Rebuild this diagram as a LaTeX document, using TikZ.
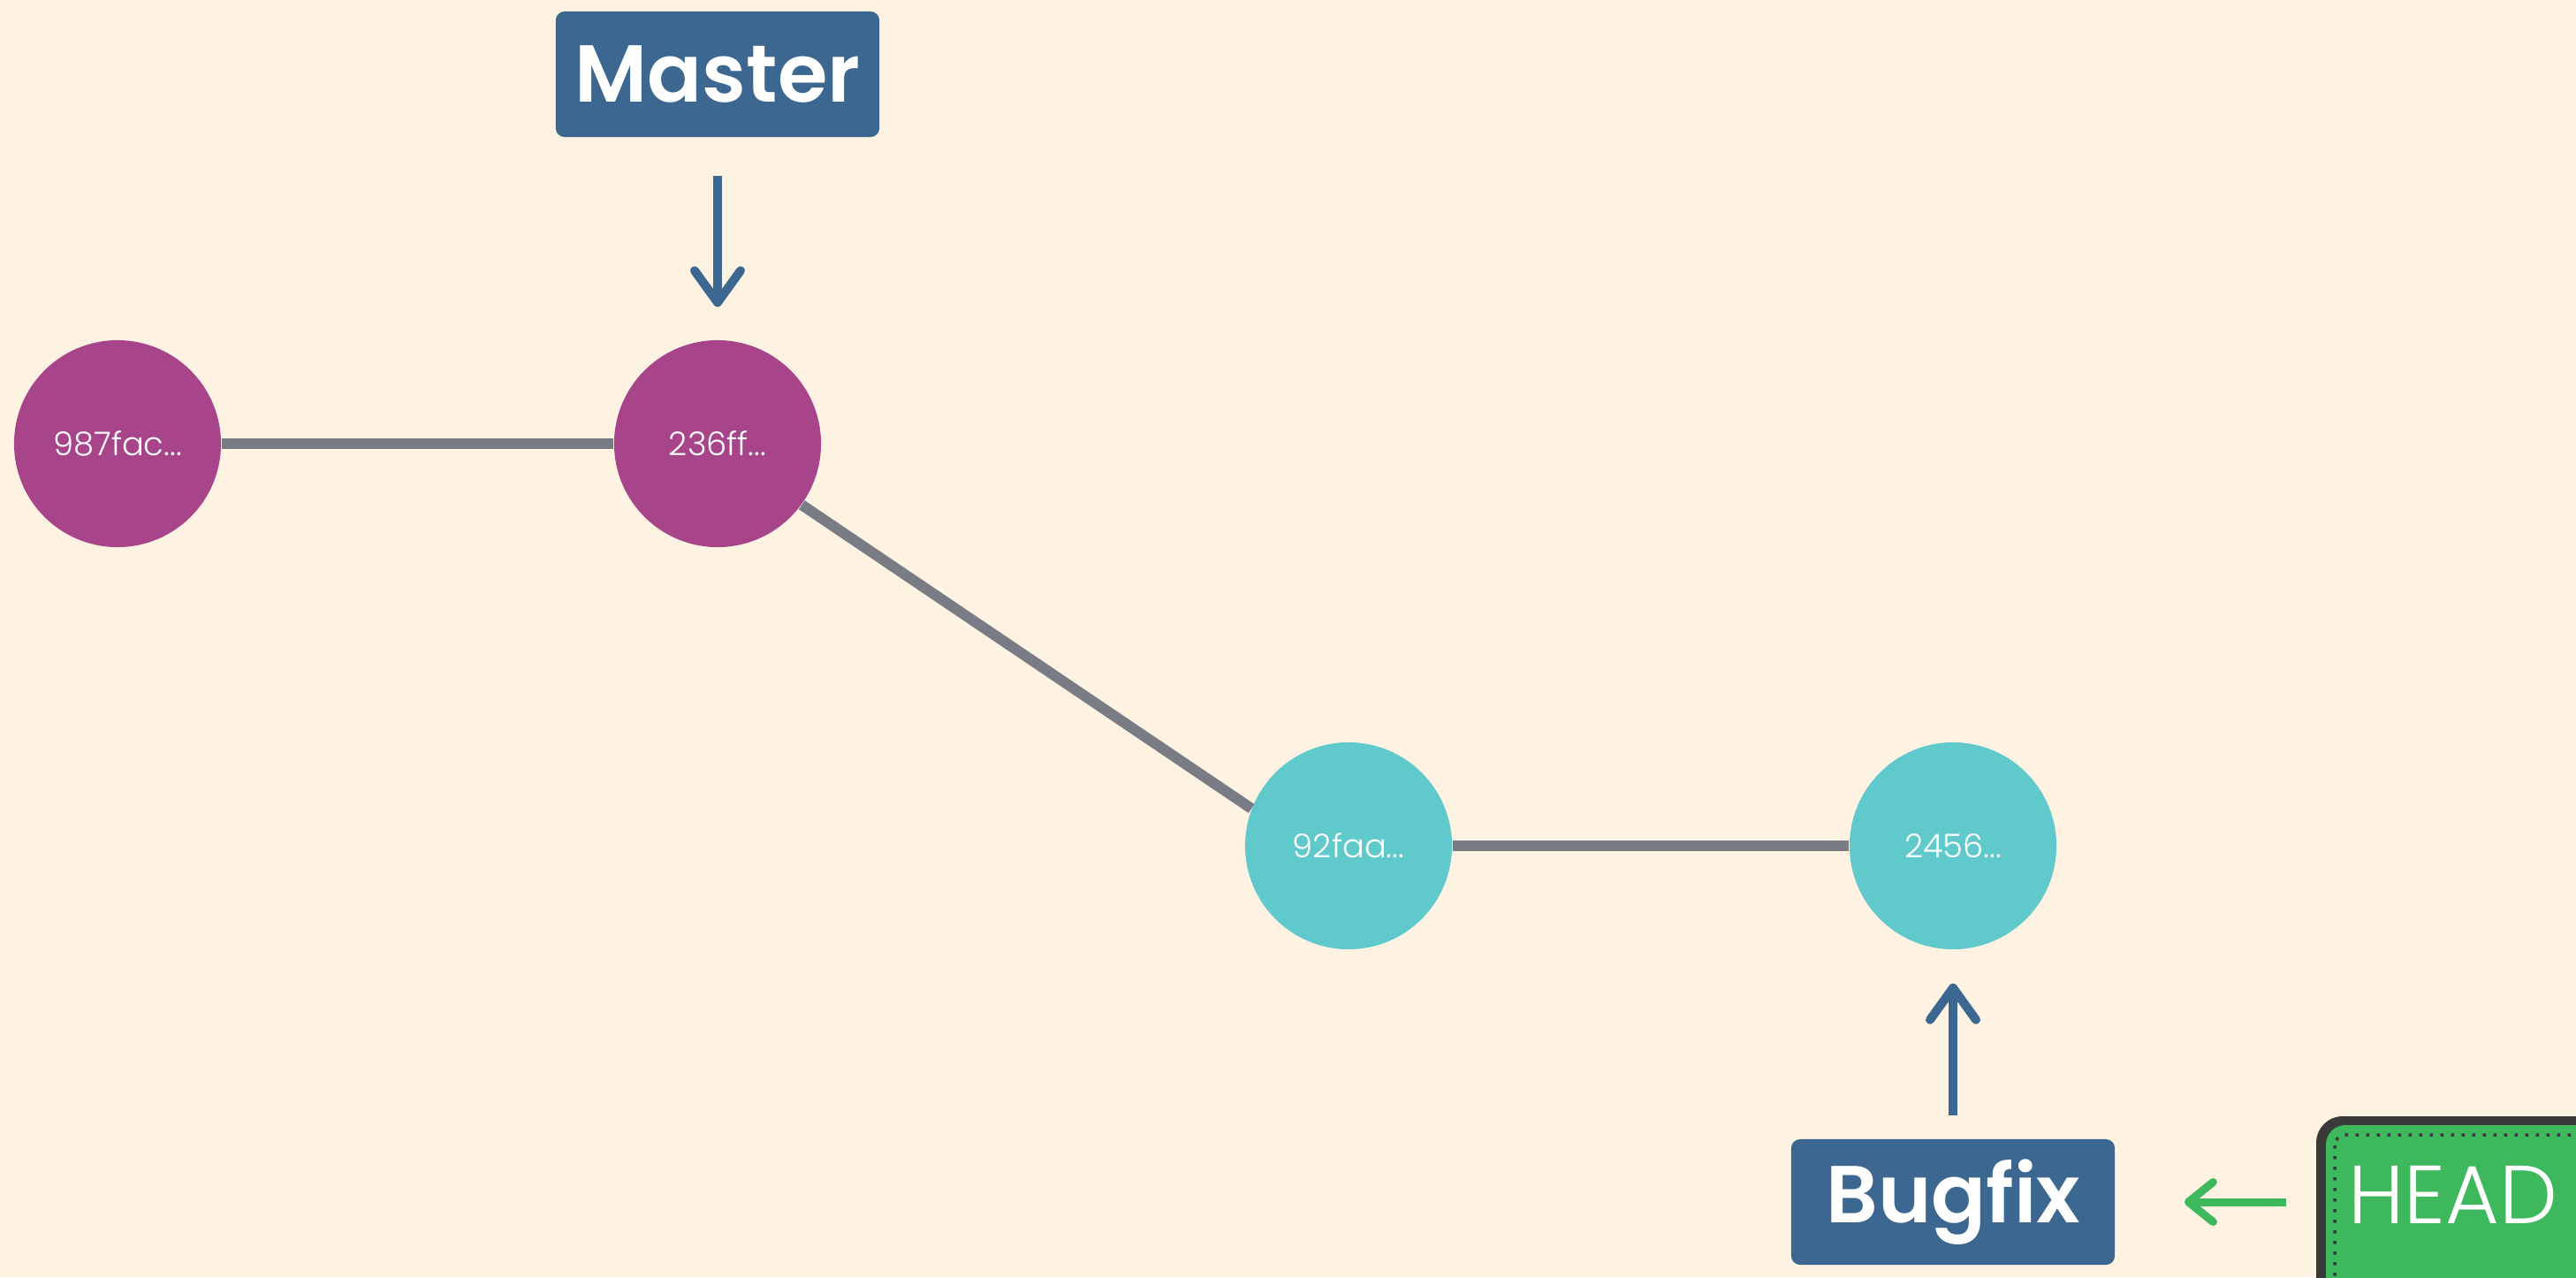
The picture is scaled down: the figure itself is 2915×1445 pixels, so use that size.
\documentclass[tikz,border=0pt]{standalone}
\usepackage{fontspec}
\setmainfont{Poppins}
\newfontfamily\thinfont{Poppins Light}
\newfontfamily\semifont{Poppins SemiBold}
\usetikzlibrary{arrows.meta}
\definecolor{paper}{HTML}{FEF3E2}
\definecolor{plum}{HTML}{A8448A}
\definecolor{teal}{HTML}{5FC9CC}
\definecolor{branch}{HTML}{3C6790}
\definecolor{edge}{HTML}{7A7C85}
\definecolor{headgreen}{HTML}{3DB85C}
\definecolor{frame}{HTML}{3A3A3A}
\tikzset{
  commit/.style={
    circle,
    minimum size=2.34cm,
    inner sep=0,
    text=white,
    font=\thinfont\fontsize{10.5}{12}\selectfont
  },
  branchbox/.style={
    rectangle,
    rounded corners=0.1cm,
    fill=branch,
    text=white,
    minimum width=3.66cm,
    minimum height=1.42cm,
    font=\semifont\fontsize{26}{28}\selectfont
  },
  pointer/.style={
    line width=0.1cm,
    -{Straight Barb[round,length=0.36cm,width=0.52cm]}
  },
  link/.style={
    line width=0.12cm,
    draw=edge
  }
}

\begin{document}
\begin{tikzpicture}[x=0.01cm,y=-0.01cm]
\clip (0,0) rectangle (2915,1445);
\fill[paper] (0,0) rectangle (2915,1445);
%\def\r{117}
\def\top{502}
\def\low{957}
\node[commit,fill=plum] (c1) at ( 133,\top) {987fac...};
\node[commit,fill=plum] (c2) at ( 812,\top) {236ff...};
\node[commit,fill=teal] (c3) at (1526,\low) {92faa...};
\node[commit,fill=teal] (c4) at (2210,\low) {2456...};
\draw[link] (c1) -- (c2);
\draw[link] (c2.-36) -- (c3.159);
\draw[link] (c3) -- (c4);
\node[branchbox] (master) at ( 812,  84) {Master};
\node[branchbox] (bugfix) at (2210,1360) {Bugfix};
\draw[pointer,draw=branch,shorten <=0.43cm,shorten >=0.37cm] (master) -- (c2);
\draw[pointer,draw=branch,shorten <=0.26cm,shorten >=0.38cm] (bugfix) -- (c4);
% head pointer
\fill[frame,rounded corners=0.3cm] (2621,1263) rectangle (3200,1700);
\fill[headgreen,rounded corners=0.22cm] (2632,1273) rectangle (3190,1690);
\draw[frame,line width=0.035cm,dash pattern=on 0.035cm off 0.085cm,rounded corners=0.12cm]
  (2642,1284) rectangle (3180,1680);
\node[text=white,font=\thinfont\fontsize{26.5}{28}\selectfont,inner sep=0.2cm] (head) at (2776,1352) {HEAD};
\draw[pointer,draw=headgreen,line width=0.09cm,-{Straight Barb[round,length=0.28cm,width=0.45cm]},
  shorten <=0.5cm,shorten >=0.78cm] (head.west |- bugfix) -- (bugfix.east);
\end{tikzpicture}
\end{document}
